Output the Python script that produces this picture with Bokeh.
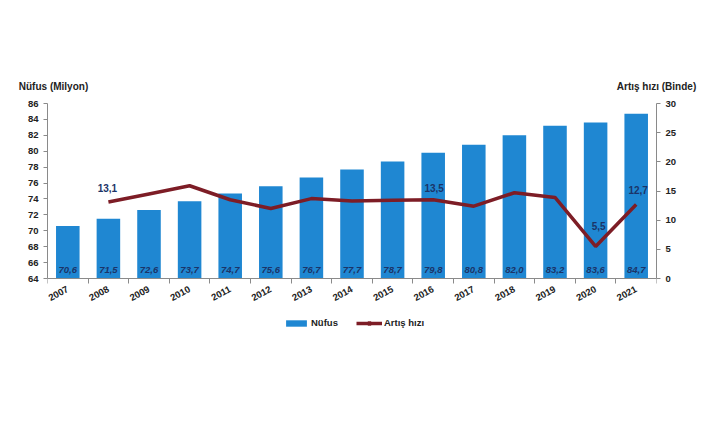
from bokeh.plotting import figure
from bokeh.models import (ColumnDataSource, Range1d, LinearAxis, FixedTicker,
                          Legend, LegendItem)
from bokeh.core.properties import value
from bokeh.embed import file_html
from bokeh.resources import INLINE

years = [2007, 2008, 2009, 2010, 2011, 2012, 2013, 2014, 2015, 2016, 2017, 2018, 2019, 2020, 2021]
nufus = [70.6, 71.5, 72.6, 73.7, 74.7, 75.6, 76.7, 77.7, 78.7, 79.8, 80.8, 82.0, 83.2, 83.6, 84.7]
rate_years = [2008, 2009, 2010, 2011, 2012, 2013, 2014, 2015, 2016, 2017, 2018, 2019, 2020, 2021]
artis = [13.1, 14.5, 15.9, 13.5, 12.0, 13.7, 13.3, 13.4, 13.5, 12.4, 14.7, 13.9, 5.5, 12.7]
shown_rate_labels = [2008, 2016, 2020, 2021]
left_title = "Nüfus (Milyon)"
right_title = "Artış hızı (Binde)"

FONT = "Liberation Sans"
BAR = "#1f87d2"
LINE = "#7d1d26"
NAVY = "#1b3468"
FW, FH = 609, 175      # size of the axes box
EXT = 60               # frame is extended downwards to hold the legend
Y0, Y1 = 64, 86
R0, R1 = 0, 30

p = figure(width=710, height=405, frame_width=FW, frame_height=FH + EXT,
           min_border_left=47, min_border_right=54, min_border_top=103,
           min_border_bottom=405 - 103 - FH - EXT,
           x_range=Range1d(2006.5, 2021.5),
           y_range=Range1d(Y0 - EXT * (Y1 - Y0) / FH, Y1),
           output_backend="svg", toolbar_location=None)
p.outline_line_color = None
p.xgrid.grid_line_color = None
p.ygrid.grid_line_color = None

p.extra_y_ranges = {"rate": Range1d(R0 - EXT * (R1 - R0) / FH, R1)}
p.extra_x_ranges = {"px": Range1d(0, FW)}

bar_src = ColumnDataSource(dict(x=years, top=nufus,
                                lbl=[f"{v:.1f}".replace(".", ",") for v in nufus]))
bars = p.vbar(x="x", top="top", bottom=Y0, width=0.58, source=bar_src,
              fill_color=BAR, line_color=None)
p.text(x="x", y=Y0, text="lbl", source=bar_src, y_offset=-9,
       text_align="center", text_baseline="middle", text_font=value(FONT),
       text_font_style="bold italic", text_font_size="9.5px", text_color=NAVY)

rate_src = ColumnDataSource(dict(x=rate_years, y=artis))
line = p.line(x="x", y="y", source=rate_src, y_range_name="rate",
              line_color=LINE, line_width=3.5)
marker = p.scatter(x="x", y="y", source=rate_src, y_range_name="rate", size=0,
                   marker="square", fill_color=LINE, line_color=LINE)

# value labels for a few points of the rate line
lab_dx = {2008: -1, 2016: 1, 2020: 3, 2021: 2}
lab_dy = {2008: -14, 2016: -12, 2020: -20, 2021: -14}
lx = [y for y in rate_years if y in shown_rate_labels]
ly = [artis[rate_years.index(y)] for y in lx]
lab_src = ColumnDataSource(dict(x=lx, y=ly,
                                lbl=[f"{v:.1f}".replace(".", ",") for v in ly],
                                dx=[lab_dx[v] for v in lx],
                                dy=[lab_dy[v] for v in lx]))
p.text(x="x", y="y", text="lbl", source=lab_src, y_range_name="rate",
       x_offset="dx", y_offset="dy",
       text_align="center", text_baseline="middle", text_font=value(FONT),
       text_font_style="bold", text_font_size="10px", text_color=NAVY)

# axes
xa = p.xaxis[0]
xa.fixed_location = Y0
xa.ticker = FixedTicker(ticks=years, minor_ticks=[y - 0.5 for y in years] + [years[-1] + 0.5])
xa.minor_tick_out = 5
xa.minor_tick_in = 0
xa.major_label_orientation = 0.5
xa.major_label_standoff = 4

ya = p.yaxis[0]
ya.bounds = (Y0, Y1)
ya.ticker = FixedTicker(ticks=list(range(Y0, Y1 + 1, 2)))
ya.major_tick_out = 4
ya.major_tick_in = 0

ra = LinearAxis(y_range_name="rate", bounds=(R0, R1),
                ticker=FixedTicker(ticks=list(range(R0, R1 + 1, 5))))
ra.major_tick_out = 4
ra.major_tick_in = 0
p.add_layout(ra, "right")

for ax in (xa, ya, ra):
    ax.axis_line_color = "#8a8a8a"
    ax.major_tick_line_color = "#8a8a8a"
    ax.minor_tick_line_color = None
    ax.major_label_text_font = FONT
    ax.major_label_text_font_style = "bold"
    ax.major_label_text_font_size = "9.5px"
    ax.major_label_text_color = "#222222"
xa.major_tick_line_color = None
xa.minor_tick_line_color = "#8a8a8a"

# axis titles above the frame, carried by a bare top axis
ta = LinearAxis(x_range_name="px", ticker=FixedTicker(ticks=[6, FW], minor_ticks=[]),
                major_label_overrides={6: left_title, FW: right_title})
ta.axis_line_color = None
ta.major_tick_line_color = None
ta.minor_tick_line_color = None
ta.major_label_standoff = 6
ta.major_label_text_font = FONT
ta.major_label_text_font_style = "bold"
ta.major_label_text_font_size = "10px"
ta.major_label_text_color = "#222222"
p.add_layout(ta, "above")

legend = Legend(items=[LegendItem(label="Nüfus", renderers=[bars]),
                       LegendItem(label="Artış hızı", renderers=[line, marker])],
                orientation="horizontal", location=(236, 10),
                glyph_width=26, glyph_height=8, label_height=8, label_standoff=2, spacing=18,
                padding=0, margin=0, border_line_color=None, background_fill_alpha=0,
                label_text_font=FONT, label_text_font_style="bold",
                label_text_font_size="9.5px", label_text_color="#222222")
p.add_layout(legend, "center")

open("out.html", "w").write(file_html(p, INLINE))
